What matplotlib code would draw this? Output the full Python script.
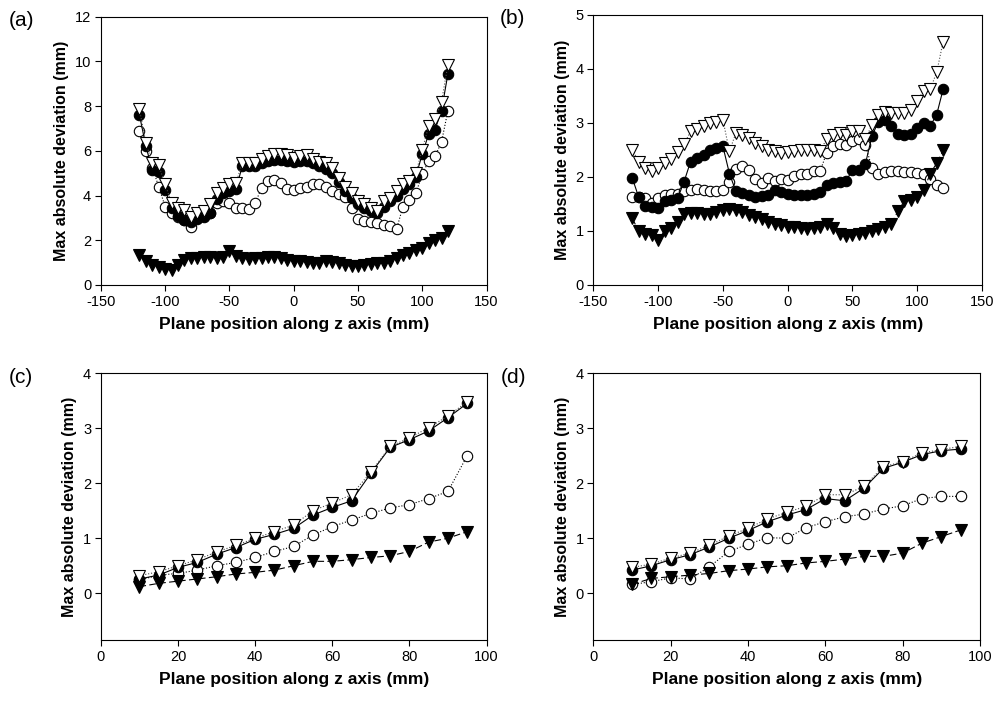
import numpy as np
import matplotlib.pyplot as plt

plt.rcParams['font.family'] = ['Liberation Sans', 'DejaVu Sans']
plt.rcParams['axes.unicode_minus'] = False

# ---- panel (a) / (b): planes from -120 to 120 mm ----
z_ab = list(range(-120, 121, 5))

a_filled_circ = [7.6, 6.2, 5.15, 5.05, 4.25, 3.45, 3.1, 2.9, 2.8, 2.95, 3.05, 3.2, 3.85,
                 4.1, 4.2, 4.3, 5.3, 5.3, 5.3, 5.45, 5.55, 5.6, 5.6, 5.55, 5.5, 5.55,
                 5.55, 5.45, 5.3, 5.2, 5.0, 4.6, 4.2, 3.9, 3.6, 3.45, 3.3, 3.2, 3.5,
                 3.75, 4.0, 4.3, 4.5, 4.85, 5.85, 6.75, 6.95, 7.8, 9.45]
a_open_circ = [6.9, 6.0, 5.25, 4.4, 3.5, 3.2, 3.05, 2.9, 2.6, 3.0, 3.1, 3.2, 3.65,
               3.75, 3.65, 3.45, 3.45, 3.4, 3.65, 4.35, 4.65, 4.7, 4.55, 4.3, 4.25,
               4.35, 4.4, 4.5, 4.5, 4.4, 4.2, 4.05, 3.95, 3.45, 2.95, 2.85, 2.8,
               2.75, 2.7, 2.65, 2.5, 3.5, 3.8, 4.1, 4.95, 5.55, 5.75, 6.4, 7.8]
a_filled_tri = [1.35, 1.05, 0.9, 0.8, 0.7, 0.68, 0.9, 1.1, 1.2, 1.2, 1.25, 1.27, 1.22,
                1.27, 1.5, 1.3, 1.22, 1.18, 1.2, 1.22, 1.25, 1.27, 1.2, 1.13, 1.07,
                1.07, 1.03, 1.0, 1.0, 1.07, 1.03, 0.97, 0.88, 0.85, 0.85, 0.9, 0.95,
                0.97, 0.97, 1.05, 1.2, 1.35, 1.42, 1.57, 1.65, 1.87, 2.0, 2.12, 2.4]
a_open_tri = [7.85, 6.35, 5.45, 5.35, 4.5, 3.65, 3.45, 3.35, 3.05, 3.2, 3.3, 3.6, 4.1,
              4.35, 4.5, 4.55, 5.45, 5.45, 5.45, 5.65, 5.75, 5.85, 5.85, 5.8, 5.7,
              5.75, 5.8, 5.65, 5.5, 5.45, 5.25, 4.8, 4.4, 4.1, 3.75, 3.6, 3.45, 3.3,
              3.75, 3.9, 4.2, 4.5, 4.65, 5.0, 6.05, 7.1, 7.4, 8.2, 9.85]

b_filled_circ = [1.98, 1.62, 1.46, 1.44, 1.42, 1.56, 1.58, 1.6, 1.91, 2.28, 2.35, 2.4,
                 2.5, 2.54, 2.56, 2.06, 1.73, 1.7, 1.67, 1.63, 1.64, 1.67, 1.75, 1.72,
                 1.69, 1.66, 1.67, 1.67, 1.69, 1.72, 1.85, 1.88, 1.9, 1.92, 2.13, 2.13,
                 2.24, 2.75, 3.02, 3.05, 2.93, 2.8, 2.77, 2.8, 2.9, 2.99, 2.94, 3.15, 3.62]
b_open_circ = [1.62, 1.62, 1.6, 1.52, 1.6, 1.67, 1.68, 1.68, 1.73, 1.76, 1.78, 1.75,
               1.73, 1.74, 1.76, 1.9, 2.15, 2.2, 2.12, 1.96, 1.88, 1.98, 1.92, 1.95,
               1.94, 2.02, 2.06, 2.05, 2.1, 2.1, 2.44, 2.56, 2.6, 2.58, 2.67, 2.69,
               2.59, 2.16, 2.06, 2.08, 2.1, 2.1, 2.08, 2.08, 2.07, 2.06, 1.95, 1.84, 1.79]
b_filled_tri = [1.23, 1.0, 0.95, 0.93, 0.84, 1.0, 1.05, 1.17, 1.31, 1.33, 1.33, 1.32,
                1.32, 1.35, 1.38, 1.4, 1.38, 1.35, 1.3, 1.25, 1.22, 1.17, 1.13, 1.1,
                1.08, 1.07, 1.05, 1.03, 1.05, 1.08, 1.13, 1.05, 0.95, 0.9, 0.92, 0.95,
                0.97, 1.0, 1.03, 1.08, 1.13, 1.36, 1.55, 1.58, 1.62, 1.75, 2.06, 2.25, 2.49]
b_open_tri = [2.5, 2.28, 2.16, 2.1, 2.16, 2.25, 2.33, 2.45, 2.6, 2.84, 2.88, 2.93, 2.99,
              3.02, 3.05, 2.47, 2.81, 2.78, 2.72, 2.62, 2.56, 2.5, 2.47, 2.44, 2.45,
              2.47, 2.49, 2.5, 2.5, 2.47, 2.7, 2.78, 2.81, 2.78, 2.84, 2.84, 2.7, 2.96,
              3.15, 3.2, 3.18, 3.18, 3.18, 3.23, 3.41, 3.59, 3.62, 3.93, 4.5]

# ---- panel (c) / (d): planes from 10 to 95 mm ----
z_cd = list(range(10, 96, 5))

c_filled_circ = [0.26, 0.33, 0.47, 0.56, 0.71, 0.83, 0.98, 1.07, 1.18, 1.42, 1.56, 1.68,
                 2.18, 2.65, 2.79, 2.95, 3.19, 3.45]
c_open_circ = [0.24, 0.33, 0.36, 0.42, 0.5, 0.56, 0.65, 0.76, 0.85, 1.06, 1.21, 1.33,
               1.45, 1.55, 1.61, 1.72, 1.85, 2.5]
c_filled_tri = [0.12, 0.18, 0.22, 0.26, 0.3, 0.35, 0.38, 0.42, 0.5, 0.58, 0.58, 0.61,
                0.65, 0.68, 0.76, 0.93, 1.0, 1.12]
c_open_tri = [0.32, 0.39, 0.5, 0.61, 0.75, 0.87, 1.0, 1.12, 1.24, 1.5, 1.64, 1.79, 2.2,
              2.67, 2.82, 3.01, 3.22, 3.48]

d_filled_circ = [0.42, 0.5, 0.61, 0.7, 0.84, 1.0, 1.14, 1.3, 1.42, 1.52, 1.72, 1.68,
                 1.91, 2.27, 2.38, 2.52, 2.59, 2.62]
d_open_circ = [0.16, 0.21, 0.28, 0.26, 0.48, 0.76, 0.89, 1.01, 1.0, 1.19, 1.3, 1.39,
               1.44, 1.53, 1.59, 1.72, 1.76, 1.76]
d_filled_tri = [0.16, 0.27, 0.3, 0.33, 0.36, 0.41, 0.44, 0.48, 0.5, 0.55, 0.58, 0.62,
                0.67, 0.67, 0.73, 0.91, 1.03, 1.15]
d_open_tri = [0.47, 0.53, 0.64, 0.73, 0.87, 1.04, 1.18, 1.35, 1.47, 1.58, 1.79, 1.79,
              1.94, 2.3, 2.39, 2.55, 2.61, 2.67]

panel_labels = ['(a)', '(b)', '(c)', '(d)']
xlabel = 'Plane position along z axis (mm)'
ylabel = 'Max absolute deviation (mm)'


def draw(ax, z, fc, oc, ft, ot):
    ms = 7.5
    ax.plot(z, oc, ls=':', color='k', lw=0.8, marker='o', ms=ms,
            mfc='white', mec='k', mew=0.8)
    ax.plot(z, fc, ls='-', color='k', lw=0.8, marker='o', ms=ms,
            mfc='k', mec='k', mew=0.8)
    ax.plot(z, ft, ls=(0, (6, 3)), color='k', lw=0.8, marker='v', ms=ms + 0.5,
            mfc='k', mec='k', mew=0.8)
    ax.plot(z, ot, ls=':', color='0.3', lw=0.8, marker='v', ms=ms + 0.5,
            mfc='white', mec='k', mew=0.8)


fig = plt.figure(figsize=(9.99, 7.08), dpi=100)
boxes = [[0.101, 0.5975, 0.386, 0.379],
         [0.594, 0.5975, 0.389, 0.382],
         [0.101, 0.096, 0.386, 0.377],
         [0.594, 0.096, 0.387, 0.377]]
axs = [fig.add_axes(b) for b in boxes]

draw(axs[0], z_ab, a_filled_circ, a_open_circ, a_filled_tri, a_open_tri)
draw(axs[1], z_ab, b_filled_circ, b_open_circ, b_filled_tri, b_open_tri)
draw(axs[2], z_cd, c_filled_circ, c_open_circ, c_filled_tri, c_open_tri)
draw(axs[3], z_cd, d_filled_circ, d_open_circ, d_filled_tri, d_open_tri)

axs[0].set_xlim(-150, 150)
axs[0].set_ylim(0, 12)
axs[0].set_yticks(range(0, 13, 2))
axs[1].set_xlim(-150, 150)
axs[1].set_ylim(0, 5)
axs[1].set_yticks(range(0, 6))
for ax in axs[:2]:
    ax.set_xticks(range(-150, 151, 50))
for ax in axs[2:]:
    ax.set_xlim(0, 100)
    ax.set_ylim(-0.85, 4)
    ax.set_yticks(range(0, 5))
    ax.set_xticks(range(0, 101, 20))

for ax, lab in zip(axs, panel_labels):
    ax.tick_params(direction='out', length=4, width=0.8, labelsize=10.5, pad=3)
    for s in ax.spines.values():
        s.set_linewidth(0.8)
    ax.set_xlabel(xlabel, fontsize=12.5, fontweight='bold', labelpad=6)
    ax.set_ylabel(ylabel, fontsize=11.5, fontweight='bold', labelpad=4)
    ax.text(-0.24, 0.985, lab, transform=ax.transAxes, fontsize=15,
            ha='left', va='center')

fig.savefig('out.png', dpi=100)
